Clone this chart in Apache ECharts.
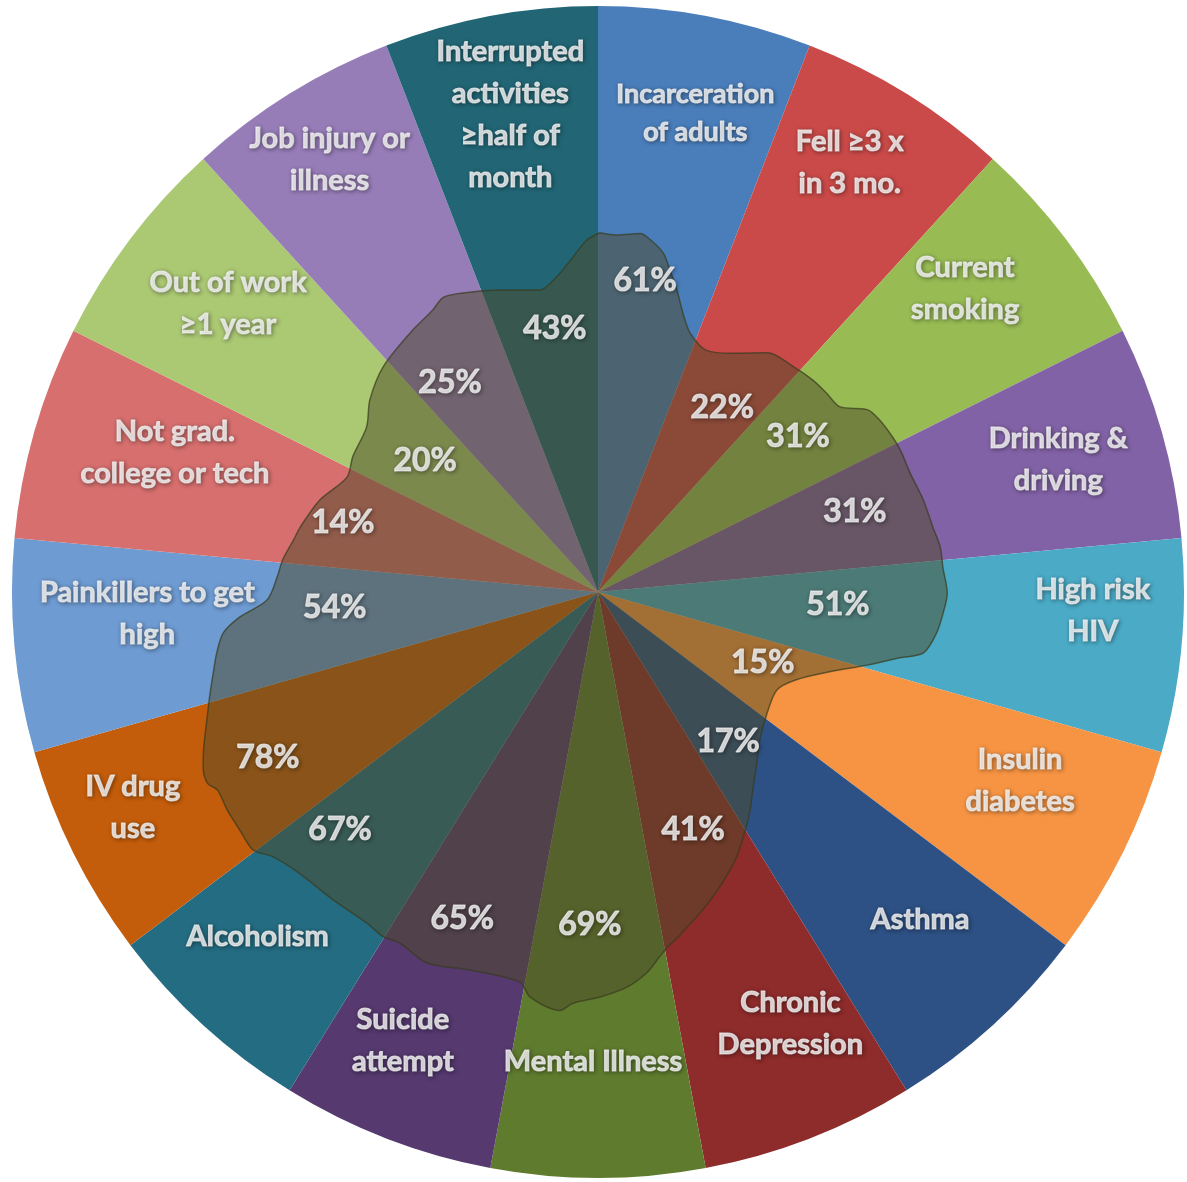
<!DOCTYPE html>
<html>
<head>
<meta charset="utf-8">
<title>Risk factors wheel</title>
<script src="https://cdn.jsdelivr.net/npm/echarts@6/dist/echarts.min.js"></script>
<style>
  html, body { margin: 0; padding: 0; background: #fff; }
  #chart { width: 1187px; height: 1182px; }
</style>
</head>
<body>
<div id="chart"></div>
<script>
// slices, clockwise from 12 o'clock
const categories = [
  'Incarceration\nof adults', 'Fell ≥3 x\nin 3 mo.', 'Current\nsmoking', 'Drinking &\ndriving',
  'High risk\nHIV', 'Insulin\ndiabetes', 'Asthma', 'Chronic\nDepression', 'Mental Illness',
  'Suicide\nattempt', 'Alcoholism', 'IV drug\nuse', 'Painkillers to get\nhigh',
  'Not grad.\ncollege or tech', 'Out of work\n≥1 year', 'Job injury or\nillness',
  'Interrupted\nactivities\n≥half of\nmonth'
]
const sliceShare = [1, 1, 1, 1, 1, 1, 1, 1, 1, 1, 1, 1, 1, 1, 1, 1, 1]
const sliceColors = [
  '#4a7ebb', '#c94a48', '#98bb54', '#8262a6', '#4baac6', '#f69443', '#2d5184', '#8e2b2b',
  '#5f7b2e', '#55396f', '#246c82', '#c45d0b', '#6e9bd2', '#d66f6e', '#abc873', '#977db8', '#226676'
]
const percentValues = [61, 22, 31, 31, 51, 15, 17, 41, 69, 65, 67, 78, 54, 14, 20, 25, 43]

// label spots, angle in degrees clockwise from top, radius in % of the pie radius
const percentLabelAngle = [8.6, 34, 52.2, 72.7, 93.1, 113.3, 139.1, 158.2, 181.4, 202.6, 227.3, 243.4, 266.5, 285.1, 307.3, 324.7, 350.7]
const percentLabelRadius = [53.8, 37.9, 43.2, 45.9, 41.0, 30.6, 33.9, 43.7, 56.8, 60.3, 59.9, 63.0, 45.0, 45.1, 37.1, 43.7, 45.6]
const nameLabelAngle = [11.5, 30.4, 50.4, 74, 92.2, 114.1, 135.5, 156, 180.6, 203.5, 224.6, 245.1, 267.2, 288.2, 307.9, 328.2, 349.6]
const nameLabelRadius = [83.3, 84.9, 81.3, 81.7, 84.5, 78.9, 78.4, 80.7, 80.2, 83.5, 82.7, 87.5, 77.0, 76.0, 80.0, 86.9, 82.9]

// outline of the dark overlay shape
const blobAngle = [
  0.3, 3.0, 6.7, 8.4, 10.9, 12.6, 14.7, 16.9, 19.6, 24.2, 29.5, 35.3, 40.9, 45.4, 49.0, 52.6,
  55.9, 58.6, 62.3, 65.0, 69.1, 74.2, 79.0, 82.5, 85.9, 90.2, 93.5, 96.9, 100.6, 102.3, 105.2,
  109.0, 114.0, 118.7, 125.6, 132.4, 137.1, 142.0, 145.5, 148.3, 152.9, 160.0, 166.6, 169.0,
  170.4, 172.7, 175.8, 179.7, 183.5, 185.2, 189.5, 191.3, 198.7, 204.7, 209.4, 212.0, 214.9,
  220.7, 226.7, 230.8, 233.2, 236.4, 239.6, 242.5, 243.9, 246.1, 248.2, 252.3, 255.4, 258.1,
  260.9, 263.8, 266.0, 268.6, 272.7, 275.8, 279.7, 282.3, 288.3, 294.6, 298.9, 305.5, 310.1,
  316.3, 324.0, 329.7, 332.3, 335.7, 342.0, 349.1, 352.6, 355.7, 358.2, 360.3
]
const blobRadius = [
  61.3, 61.0, 61.6, 60.8, 58.9, 56.3, 53.2, 49.8, 46.9, 45.2, 46.8, 50.0, 50.9, 51.5, 51.7, 52.0,
  55.5, 56.3, 56.8, 57.0, 57.0, 57.7, 58.2, 58.9, 59.0, 59.6, 59.0, 58.2, 56.5, 52.7, 47.6,
  41.8, 36.9, 34.8, 35.5, 37.4, 39.8, 42.9, 45.7, 47.8, 51.4, 56.0, 60.2, 61.8,
  63.1, 65.5, 67.6, 69.1, 70.3, 71.7, 70.1, 67.9, 68.1, 69.7, 68.8, 69.3, 68.9,
  69.3, 70.0, 71.5, 73.5, 73.4, 73.4, 73.2, 74.2, 73.7, 72.5, 70.0, 68.4, 67.1,
  65.9, 64.3, 61.3, 56.5, 54.8, 54.1, 52.7, 52.0, 50.0, 47.1, 47.8, 48.5, 50.9,
  53.1, 54.6, 55.8, 56.8, 56.0, 54.2, 52.5, 54.3, 57.3, 60.1, 61.3
]

const CENTER = [598, 592]
const RADIUS = 586

const chart = echarts.init(document.getElementById('chart'))

const textBase = {
  color: '#f8f8f8',
  fontFamily: 'Lato',
  fontWeight: 'bold',
  textBorderColor: '#f8f8f8',
  textBorderWidth: 1.1,
  textShadowColor: 'rgba(0,0,0,0.45)',
  textShadowBlur: 4,
  textShadowOffsetX: 1,
  textShadowOffsetY: 1,
}

const option = {
  backgroundColor: '#ffffff',
  animation: false,
  polar: { center: CENTER, radius: RADIUS },
  angleAxis: {
    type: 'value', min: 0, max: 360, startAngle: 90, clockwise: true,
    axisLine: { show: false }, axisTick: { show: false }, axisLabel: { show: false }, splitLine: { show: false }
  },
  radiusAxis: {
    type: 'value', min: 0, max: 100,
    axisLine: { show: false }, axisTick: { show: false }, axisLabel: { show: false }, splitLine: { show: false }
  },
  series: [
    {
      type: 'pie',
      center: CENTER,
      radius: RADIUS,
      startAngle: 90,
      clockwise: true,
      silent: true,
      z: 1,
      label: { show: false },
      labelLine: { show: false },
      data: categories.map((name, i) => ({
        name: name,
        value: sliceShare[i],
        itemStyle: { color: sliceColors[i] }
      }))
    },
    {
      // dark overlay shape
      type: 'line',
      coordinateSystem: 'polar',
      z: 2,
      silent: true,
      smooth: 0.3,
      showSymbol: false,
      lineStyle: { color: 'rgba(55,58,30,0.7)', width: 1.5 },
      areaStyle: { color: 'rgba(78,74,40,0.5)', opacity: 1 },
      data: blobAngle.map((a, i) => [blobRadius[i], a])
    },
    {
      type: 'scatter',
      coordinateSystem: 'polar',
      z: 3,
      silent: true,
      symbolSize: 1,
      itemStyle: { color: 'rgba(0,0,0,0)' },
      label: Object.assign({
        show: true, position: 'inside', fontSize: 32,
        formatter: p => p.value[2] + '%'
      }, textBase),
      data: percentValues.map((v, i) => [percentLabelRadius[i], percentLabelAngle[i], v])
    },
    {
      type: 'scatter',
      coordinateSystem: 'polar',
      z: 3,
      silent: true,
      symbolSize: 1,
      itemStyle: { color: 'rgba(0,0,0,0)' },
      label: Object.assign({
        show: true, position: 'inside', fontSize: 29, lineHeight: 42, align: 'center',
        formatter: p => categories[p.dataIndex]
      }, textBase),
      data: categories.map((c, i) => {
        const item = { value: [nameLabelRadius[i], nameLabelAngle[i]] }
        if (i === 0) item.label = { fontSize: 27, lineHeight: 38 }
        return item
      })
    }
  ]
}

chart.setOption(option)
</script>
</body>
</html>
